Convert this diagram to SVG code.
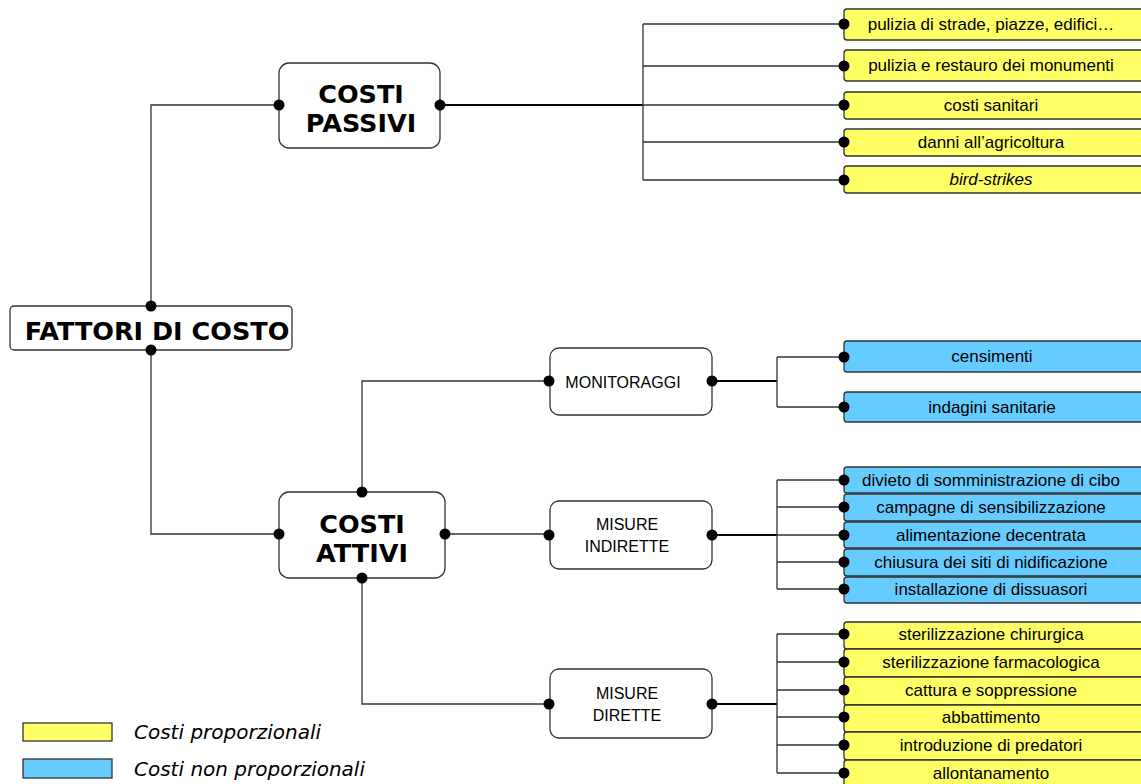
<svg xmlns="http://www.w3.org/2000/svg" width="1141" height="784" viewBox="0 0 1141 784">
<style>
.node{fill:#fff;stroke:#333;stroke-width:1.3}
.y{fill:#FFFF66;stroke:#333;stroke-width:1.3}
.b{fill:#66CCFF;stroke:#333;stroke-width:1.3}
.big{font-family:"DejaVu Sans",sans-serif;font-weight:bold;font-size:25.5px;fill:#000;text-anchor:middle}
.mid{font-family:"Liberation Sans",Arial,sans-serif;font-size:16px;fill:#000;text-anchor:middle}
.leaf{font-family:"Liberation Sans",Arial,sans-serif;font-size:17px;fill:#000;text-anchor:middle}
.leg{font-family:"DejaVu Sans",sans-serif;font-style:italic;font-size:20px;fill:#000}
.thin{fill:none;stroke:#333;stroke-width:1.3}
.thick{fill:none;stroke:#000;stroke-width:2}
.dot{fill:#000}
</style>
<g id="connectors">
<path class="thin" d="M151,306 V105 H279"/>
<path class="thin" d="M151,350 V534 H279"/>
<path class="thick" d="M440,105 H643"/>
<path class="thin" d="M643,24 V180 M643,24 H844 M643,66 H844 M643,105 H844 M643,142 H844 M643,180 H844"/>
<path class="thin" d="M362,492 V381 H549"/>
<path class="thin" d="M445,534 H549"/>
<path class="thin" d="M362,578 V704 H549"/>
<path class="thick" d="M712,381 H777"/>
<path class="thin" d="M777,357 V407 M777,357 H844 M777,407 H844"/>
<path class="thick" d="M712,535 H777"/>
<path class="thin" d="M777,480 V589 M777,480 H844 M777,507 H844 M777,535 H844 M777,562 H844 M777,589 H844"/>
<path class="thick" d="M712,704 H777"/>
<path class="thin" d="M777,634 V773 M777,634 H844 M777,662 H844 M777,690 H844 M777,717 H844 M777,745 H844 M777,773 H844"/>
</g>
<g id="n-fattori">
<rect class="node" x="10" y="306" width="282" height="44" rx="4"/>
<text class="big" x="157" y="340">FATTORI DI COSTO</text>
</g>
<g id="n-passivi">
<rect class="node" x="279" y="63" width="161" height="85" rx="10"/>
<text class="big" x="361" y="103">COSTI</text>
<text class="big" x="361" y="132">PASSIVI</text>
</g>
<g id="n-attivi">
<rect class="node" x="279" y="492" width="166" height="86" rx="10"/>
<text class="big" x="362" y="533">COSTI</text>
<text class="big" x="362" y="562">ATTIVI</text>
</g>
<g id="n-monitoraggi">
<rect class="node" x="550" y="348" width="162" height="67" rx="9"/>
<text class="mid" x="623" y="388">MONITORAGGI</text>
</g>
<g id="n-indirette">
<rect class="node" x="550" y="501" width="162" height="68" rx="9"/>
<text class="mid" x="627" y="530">MISURE</text>
<text class="mid" x="627" y="552">INDIRETTE</text>
</g>
<g id="n-dirette">
<rect class="node" x="550" y="669" width="162" height="69" rx="9"/>
<text class="mid" x="627" y="699">MISURE</text>
<text class="mid" x="627" y="721">DIRETTE</text>
</g>
<g id="leaves-passivi">
<rect class="y" x="844" y="9" width="310" height="31" rx="3"/><text class="leaf" x="991" y="30">pulizia di strade, piazze, edifici…</text>
<rect class="y" x="844" y="50" width="310" height="31" rx="3"/><text class="leaf" x="991" y="71">pulizia e restauro dei monumenti</text>
<rect class="y" x="844" y="92" width="310" height="27" rx="3"/><text class="leaf" x="991" y="111">costi sanitari</text>
<rect class="y" x="844" y="129" width="310" height="27" rx="3"/><text class="leaf" x="991" y="148">danni all’agricoltura</text>
<rect class="y" x="844" y="166" width="310" height="27" rx="3"/><text class="leaf" x="991" y="185" font-style="italic">bird-strikes</text>
</g>
<g id="leaves-monitoraggi">
<rect class="b" x="844" y="341" width="310" height="31" rx="3"/><text class="leaf" x="992" y="362">censimenti</text>
<rect class="b" x="844" y="392" width="310" height="30" rx="3"/><text class="leaf" x="992" y="413">indagini sanitarie</text>
</g>
<g id="leaves-indirette">
<rect class="b" x="844" y="467" width="310" height="26" rx="3"/><text class="leaf" x="991" y="486">divieto di somministrazione di cibo</text>
<rect class="b" x="844" y="494" width="310" height="27" rx="3"/><text class="leaf" x="991" y="513">campagne di sensibilizzazione</text>
<rect class="b" x="844" y="522" width="310" height="26" rx="3"/><text class="leaf" x="991" y="541">alimentazione decentrata</text>
<rect class="b" x="844" y="549" width="310" height="27" rx="3"/><text class="leaf" x="991" y="568">chiusura dei siti di nidificazione</text>
<rect class="b" x="844" y="577" width="310" height="26" rx="3"/><text class="leaf" x="991" y="595">installazione di dissuasori</text>
</g>
<g id="leaves-dirette">
<rect class="y" x="844" y="622" width="310" height="27" rx="3"/><text class="leaf" x="991" y="640">sterilizzazione chirurgica</text>
<rect class="y" x="844" y="649" width="310" height="28" rx="3"/><text class="leaf" x="991" y="668">sterilizzazione farmacologica</text>
<rect class="y" x="844" y="677" width="310" height="28" rx="3"/><text class="leaf" x="991" y="696">cattura e soppressione</text>
<rect class="y" x="844" y="705" width="310" height="27" rx="3"/><text class="leaf" x="991" y="723">abbattimento</text>
<rect class="y" x="844" y="732" width="310" height="28" rx="3"/><text class="leaf" x="991" y="751">introduzione di predatori</text>
<rect class="y" x="844" y="760" width="310" height="30" rx="3"/><text class="leaf" x="991" y="779">allontanamento</text>
</g>
<g id="dots">
<circle class="dot" cx="151" cy="306" r="5.5"/><circle class="dot" cx="151" cy="350" r="5.5"/>
<circle class="dot" cx="279" cy="105" r="5.5"/><circle class="dot" cx="440" cy="105" r="5.5"/>
<circle class="dot" cx="279" cy="534" r="5.5"/><circle class="dot" cx="445" cy="534" r="5.5"/>
<circle class="dot" cx="362" cy="492" r="5.5"/><circle class="dot" cx="362" cy="578" r="5.5"/>
<circle class="dot" cx="549" cy="381" r="5.5"/><circle class="dot" cx="712" cy="381" r="5.5"/>
<circle class="dot" cx="549" cy="535" r="5.5"/><circle class="dot" cx="712" cy="535" r="5.5"/>
<circle class="dot" cx="549" cy="704" r="5.5"/><circle class="dot" cx="712" cy="704" r="5.5"/>
<circle class="dot" cx="844" cy="24" r="5.5"/><circle class="dot" cx="844" cy="66" r="5.5"/><circle class="dot" cx="844" cy="105" r="5.5"/><circle class="dot" cx="844" cy="142" r="5.5"/><circle class="dot" cx="844" cy="180" r="5.5"/>
<circle class="dot" cx="844" cy="357" r="5.5"/><circle class="dot" cx="844" cy="407" r="5.5"/>
<circle class="dot" cx="844" cy="480" r="5.5"/><circle class="dot" cx="844" cy="507" r="5.5"/><circle class="dot" cx="844" cy="535" r="5.5"/><circle class="dot" cx="844" cy="562" r="5.5"/><circle class="dot" cx="844" cy="589" r="5.5"/>
<circle class="dot" cx="844" cy="634" r="5.5"/><circle class="dot" cx="844" cy="662" r="5.5"/><circle class="dot" cx="844" cy="690" r="5.5"/><circle class="dot" cx="844" cy="717" r="5.5"/><circle class="dot" cx="844" cy="745" r="5.5"/><circle class="dot" cx="844" cy="773" r="5.5"/>
</g>
<g id="legend">
<rect class="y" x="23" y="723" width="89" height="18"/>
<text class="leg" x="134" y="739">Costi proporzionali</text>
<rect class="b" x="23" y="759" width="89" height="19"/>
<text class="leg" x="134" y="776">Costi non proporzionali</text>
</g>
</svg>
